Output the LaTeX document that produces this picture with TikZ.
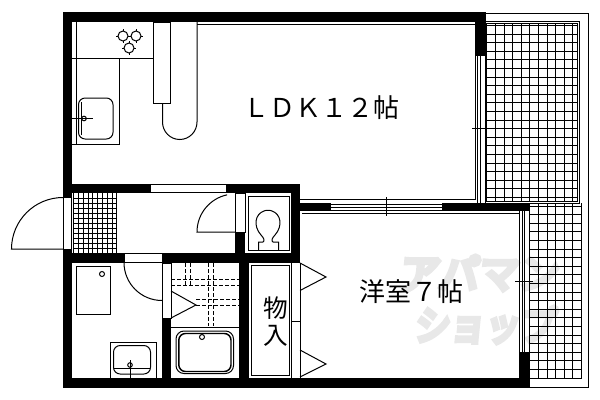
\documentclass[tikz,border=0pt]{standalone}
\usepackage{fontspec}
\newfontfamily\jp{Noto Sans CJK JP}
\newfontfamily\jpheavy[FakeBold=12]{Noto Sans CJK JP}
\tikzset{
  ln/.style={draw=black,line width=0.75pt},
  gridln/.style={draw=black,line width=0.6pt},
  wall/.style={fill=black,draw=none},
  gap/.style={fill=white,draw=black,line width=0.75pt},
  dsh/.style={draw=black,line width=0.7pt,dash pattern=on 3pt off 1.5pt},
  lab/.style={inner sep=0pt,font=\jp\fontsize{19.5}{21}\selectfont},
  wmark/.style={inner sep=0pt,text=black!9}
}
\begin{document}
\begin{tikzpicture}[x=0.75pt,y=-0.75pt]
\useasboundingbox (0,0) rectangle (600,400);
\fill[white] (0,0) rectangle (600,400);
% watermark
\node[wmark,font=\jpheavy\fontsize{30}{32}\selectfont,xslant=0.1] (wm1) at (480,273) {アパマン};
\node[wmark,font=\jpheavy\fontsize{30}{32}\selectfont,xslant=0.1,xscale=0.88] (wm2) at (486,325) {ショップ};
% balcony
\draw[ln] (486,13) -- (588,13) -- (588,387) -- (529,387) -- (529,378);
\draw[ln] (486,21) -- (579,21) -- (579,203) -- (529,203);
\draw[ln] (486,23.5) -- (577,23.5) -- (577,201) -- (486,201);
\foreach \i in {0,...,10} \draw[gridln] (486.7+8.6*\i,23.5) -- (486.7+8.6*\i,201);
\foreach \i in {0,...,20} \draw[gridln] (486,25.3+8.6*\i) -- (577,25.3+8.6*\i);
\foreach \i in {0,...,5} \draw[gridln] (538.3+8.6*\i,203) -- (538.3+8.6*\i,378);
\draw[gridln] (529.7,203) -- (529.7,378);
\foreach \i in {21,...,41} \draw[gridln] (529,25.3+8.6*\i) -- (582,25.3+8.6*\i);
\draw[gridln] (529,378) -- (582,378);
% walls
\fill[wall] (63,12) rectangle (486,22);
\fill[wall] (63,12) rectangle (72,197);
\fill[wall] (63,249) rectangle (72,388);
\fill[wall] (63,378) rectangle (529,388);
\fill[wall] (63,184) rectangle (150,193);
\fill[wall] (226,184) rectangle (300,193);
\fill[wall] (291,184) rectangle (300,263);
\fill[wall] (63,253) rectangle (124,263);
\fill[wall] (162,253) rectangle (300,263);
\fill[wall] (235,232) rectangle (245,253);
\fill[wall] (162,318) rectangle (171,378);
\fill[wall] (239,263) rectangle (249,378);
\fill[wall] (300,203) rectangle (331,211);
\fill[wall] (442,203) rectangle (529,211);
\fill[wall] (519,352) rectangle (529,378);
\fill[wall] (475,12) rectangle (486,56);
% openings
\draw[gap] (150,184.4) rectangle (226,192);
\draw[gap] (63.4,197) rectangle (71.6,249);
\draw[gap] (124,253.4) rectangle (162,262);
\draw[gap] (235,193) rectangle (245,232);
\draw[gap] (162,263) rectangle (171,318);
% LDK thin outline
\draw[ln] (197,24) -- (475,24) -- (475,199) -- (300,199);
\draw[ln] (477.5,56) -- (477.5,203);
\draw[ln] (480,56) -- (480,203);
\draw[ln] (485.5,56) -- (485.5,203);
\draw[ln] (472,128) -- (490,128);
% kitchen
\draw[ln] (76,22) -- (76,144);
\draw[ln] (72,58) -- (153,58);
\draw[ln] (72,144) -- (119,144) -- (119,58);
\draw[ln,rounded corners=5pt] (78.5,98) rectangle (113,139);
\draw[ln] (81,102) -- (81,135);
\draw[ln] (72,118.5) -- (93,118.5);
\draw[ln] (84,118.5) circle[radius=2.3];
\foreach \a/\b in {123/36,136/36,129/48} {
  \begin{scope}[shift={(\a,\b)}]
    \draw[ln] (0,0) circle[radius=5];
    \draw[ln] (0,-7) -- (0,-5) (0,5) -- (0,7) (-7,0) -- (-5,0) (5,0) -- (7,0);
  \end{scope}
}
\draw[ln] (153,22) rectangle (170.5,103);
\draw[ln] (197,22) -- (197,122) arc[start angle=0,end angle=180,x radius=17.25,y radius=17.5] -- (162.5,103);
% entrance door
\draw[ln] (63,249) -- (11.5,249) arc[start angle=180,end angle=270,radius=51.5];
% entrance tiles
\foreach \i in {0,...,9} \draw[gridln] (73.5+4.8*\i,193) -- (73.5+4.8*\i,253);
\foreach \i in {0,...,11} \draw[gridln] (73,198+5*\i) -- (117,198+5*\i);
% toilet
\draw[ln] (235,232) -- (197,232) arc[start angle=180,end angle=258,radius=38];
\draw[ln] (248,196) rectangle (289,250);
\draw[ln] (258.5,250) -- (258.5,242) -- (263,242) .. controls (265,241) and (264,238) .. (261,235)
  .. controls (253,226) and (255,214) .. (264,211) .. controls (266,210) and (270,210) .. (272,211)
  .. controls (281,214) and (283,226) .. (275,235) .. controls (272,238) and (271,241) .. (273,242) -- (278.5,242) -- (278.5,250);
% wash room
\draw[ln] (76.5,266.5) rectangle (110.5,314);
\draw[ln] (102,274) circle[radius=2.5];
\draw[ln] (110.5,378) -- (110.5,342.5) -- (156.5,342.5) -- (156.5,378);
\draw[ln,rounded corners=5pt] (113.5,345.5) rectangle (150.5,374);
\draw[ln] (114,368) -- (150,368);
\draw[ln] (130,360) -- (130,378);
\draw[ln] (130,365) circle[radius=2.3];
\draw[ln] (162,300.5) arc[start angle=90,end angle=180,radius=38];
% bath
\draw[ln] (171,327) -- (239,327);
\draw[ln] (171,291) -- (196,305) -- (171,318);
\draw[ln,rounded corners=6pt] (176,331) rectangle (233.5,373.5);
\draw[line width=1.1pt,rounded corners=5pt] (178.8,333.5) rectangle (231,371.5);
\draw[ln] (202,337) circle[radius=2.5];
\draw[dsh] (185,263) -- (185,287);
\draw[dsh] (190,263) -- (190,287);
\draw[dsh] (208,263) -- (208,326);
\draw[dsh] (213,263) -- (213,326);
\draw[dsh] (171,279) -- (239,279);
\draw[dsh] (171,285.5) -- (239,285.5);
\draw[dsh] (196,299.5) -- (239,299.5);
\draw[dsh] (196,305.5) -- (239,305.5);
% closet
\draw[ln] (251.5,265.5) rectangle (289,375);
\draw[ln] (291.7,263) -- (291.7,378);
\draw[ln] (300,263) -- (300,378);
\draw[ln] (292,321) -- (300,321);
\draw[ln] (300,263) -- (326,277) -- (300,290.5);
\draw[ln] (300,350) -- (326,364) -- (300,377);
% bedroom
\draw[ln] (331,204.5) -- (442,204.5);
\draw[ln] (331,207.5) -- (442,207.5);
\draw[ln] (331,210.5) -- (442,210.5);
\draw[ln] (386,197) -- (386,216);
\draw[ln] (302,213.5) -- (519,213.5);
\draw[ln] (519.5,211) -- (519.5,352);
\draw[ln] (522.5,211) -- (522.5,352);
\draw[ln] (524.5,211) -- (524.5,352);
\draw[ln] (529,203) -- (529,352);
\draw[ln] (515,281) -- (533,281);
% labels
\node[lab] (ldk) at (321,107.5) {ＬＤＫ１２帖};
\node[lab] (yoshitsu) at (411,292) {洋室７帖};
\node[lab,font=\jp\fontsize{18.5}{20}\selectfont] (mono1) at (276,308.5) {物};
\node[lab,font=\jp\fontsize{18.5}{20}\selectfont] (mono2) at (276,336) {入};
\end{tikzpicture}
\end{document}
